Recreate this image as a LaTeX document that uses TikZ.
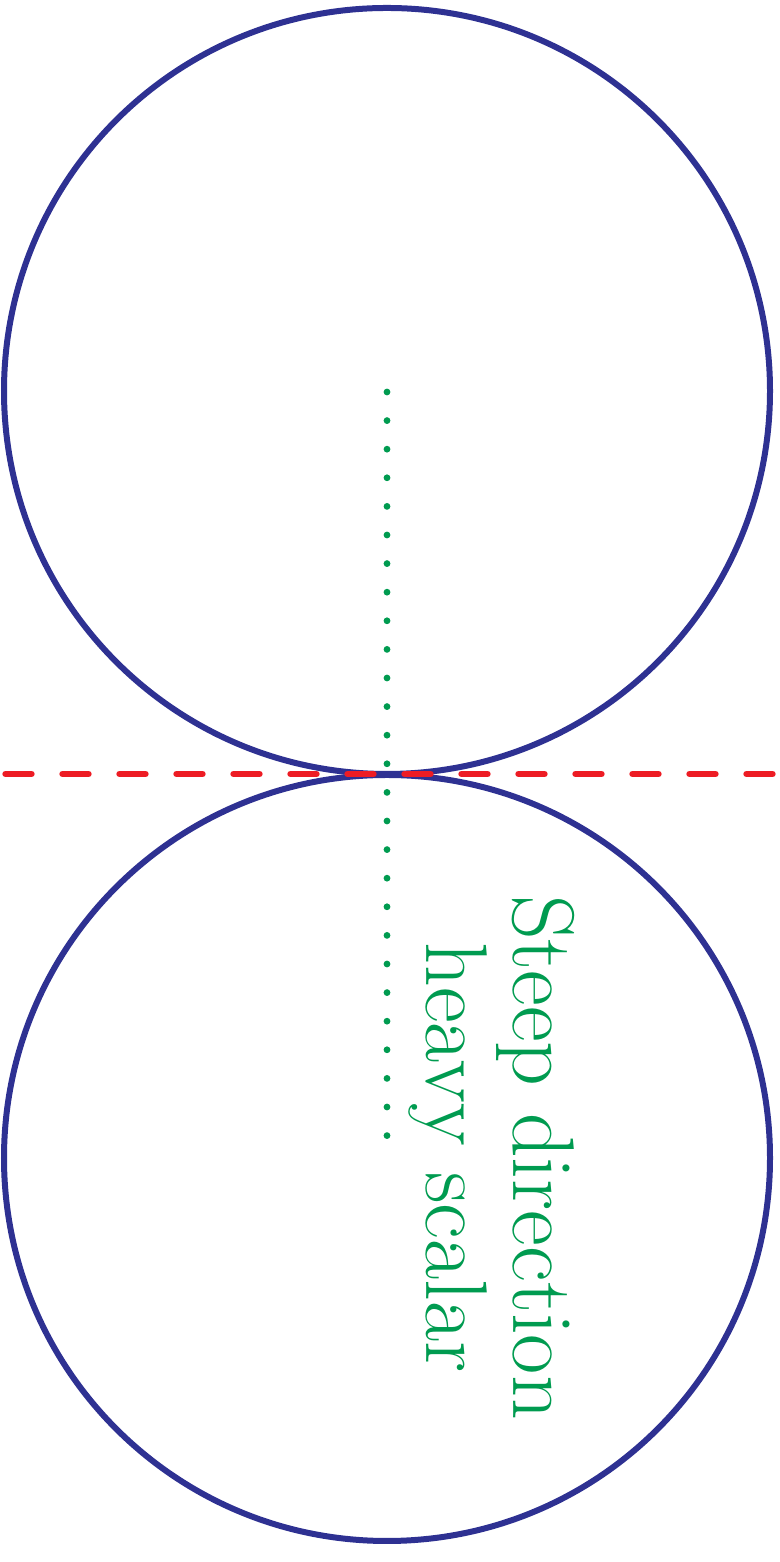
\documentclass[tikz,border=0pt]{standalone}
\usepackage{fontspec}
\usetikzlibrary{positioning}
\definecolor{ring}{RGB}{46,49,146}
\definecolor{cut}{RGB}{237,28,36}
\definecolor{steep}{RGB}{0,155,80}
\tikzset{
  ringc/.style={draw=ring, line width=3pt},
  cutline/.style={draw=cut, line width=3.2pt, line cap=round, dash pattern=on 13pt off 15.5pt},
  dotline/.style={draw=steep, line width=3.4pt, line cap=round, dash pattern=on 0pt off 14.3pt},
  lab/.style={text=steep, font=\fontsize{43.8}{43.5}\selectfont, align=center, rotate=-90, inner sep=0pt},
}
\begin{document}
\begin{tikzpicture}[x=0.5pt, y=0.5pt]
  \useasboundingbox (0,0) rectangle (780,1562);
  \coordinate (top) at (387,1171);
  \coordinate (bot) at (387,404);
  \coordinate (dtop) at (387,1170);
  \coordinate (dbot) at (387,426);
  % the two touching circles
  \draw[ringc] (top) circle[radius=383];
  \draw[ringc] (bot) circle[radius=383];
  % tangent line at the contact point
  \draw[cutline] (5.5,788) -- (780,788);
  \draw[dotline] (dtop) -- (dbot);
  \node[lab] (steepdir) at (492,404.5) {Steep direction\\heavy scalar};
\end{tikzpicture}
\end{document}
